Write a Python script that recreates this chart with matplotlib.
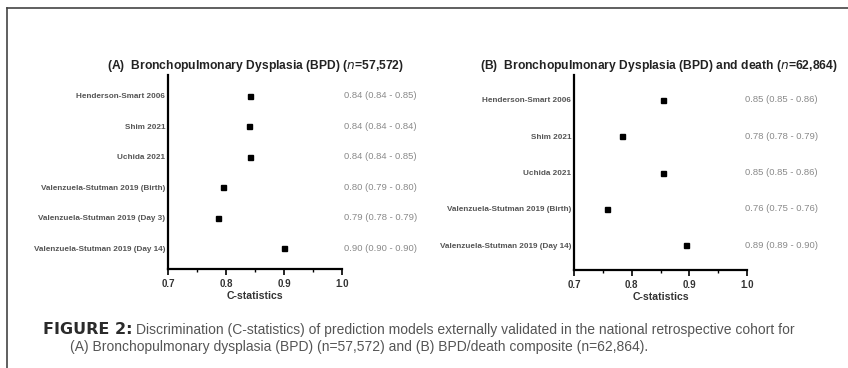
import matplotlib
matplotlib.use("Agg")
import matplotlib.pyplot as plt
from matplotlib.ticker import MultipleLocator

# datos
models_a = ["Henderson-Smart 2006", "Shim 2021", "Uchida 2021",
            "Valenzuela-Stutman 2019 (Birth)", "Valenzuela-Stutman 2019 (Day 3)",
            "Valenzuela-Stutman 2019 (Day 14)"]
cstat_a = [0.841, 0.839, 0.841, 0.795, 0.787, 0.900]
labels_a = ["0.84 (0.84 - 0.85)", "0.84 (0.84 - 0.84)", "0.84 (0.84 - 0.85)",
            "0.80 (0.79 - 0.80)", "0.79 (0.78 - 0.79)", "0.90 (0.90 - 0.90)"]

models_b = ["Henderson-Smart 2006", "Shim 2021", "Uchida 2021",
            "Valenzuela-Stutman 2019 (Birth)", "Valenzuela-Stutman 2019 (Day 14)"]
cstat_b = [0.854, 0.784, 0.855, 0.757, 0.894]
labels_b = ["0.85 (0.85 - 0.86)", "0.78 (0.78 - 0.79)", "0.85 (0.85 - 0.86)",
            "0.76 (0.75 - 0.76)", "0.89 (0.89 - 0.90)"]

xticks = [0.7, 0.8, 0.9, 1.0]
xtick_labels = ["0.7", "0.8", "0.9", "1.0"]

W, H = 848, 368
fig = plt.figure(figsize=(W / 100, H / 100), dpi=100)
plt.rcParams['font.family'] = ['Liberation Sans', 'DejaVu Sans']


def px_axes(left, right, top, bottom):
    return fig.add_axes([left / W, 1 - bottom / H, (right - left) / W, (bottom - top) / H])


def forest(ax, models, vals, labels, title, title_x, text_x):
    n = len(models)
    y = list(range(n))
    ax.plot(vals, y, 's', color='black', markersize=3.6, linestyle='none')
    ax.set_xlim(0.7, 1.0)
    ax.set_ylim(n - 1 + 0.68, -0.68)
    ax.set_yticks(y)
    ax.set_yticklabels(models, fontsize=5.9, fontweight='bold', color='#555555')
    ax.tick_params(axis='y', length=0, pad=2)
    ax.set_xticks(xticks)
    ax.set_xticklabels(xtick_labels, fontsize=7, fontweight='bold', color='#333333')
    ax.xaxis.set_minor_locator(MultipleLocator(0.05))
    ax.tick_params(axis='x', which='major', length=4, width=1.2, pad=3)
    ax.tick_params(axis='x', which='minor', length=2.5, width=1.0)
    for s in ['top', 'right']:
        ax.spines[s].set_visible(False)
    for s in ['left', 'bottom']:
        ax.spines[s].set_linewidth(1.6)
    ax.set_xlabel("C-statistics", fontsize=7.6, fontweight='bold', color='#333333', labelpad=1.5)
    for yi, t in zip(y, labels):
        ax.text(text_x, yi, t, fontsize=6.8, color='#8a8a8a', va='center', ha='left',
                transform=ax.transData, clip_on=False)
    fig.text(title_x / W, 1 - 66 / H, title, fontsize=8.7, fontweight='bold',
             color='#222222', va='center', ha='left')


ax1 = px_axes(168, 342, 75, 269)
forest(ax1, models_a, cstat_a, labels_a,
       r"(A)  Bronchopulmonary Dysplasia (BPD) ($\bf{\it{n}}$=57,572)", 107, 1.003)

ax2 = px_axes(574, 747, 75, 270)
forest(ax2, models_b, cstat_b, labels_b,
       r"(B)  Bronchopulmonary Dysplasia (BPD) and death ($\bf{\it{n}}$=62,864)", 480, 0.997)

# marco de la figura
fig.add_artist(plt.Line2D([7 / W, 1], [1 - 8 / H, 1 - 8 / H], color='#444444', lw=1.2))
fig.add_artist(plt.Line2D([7 / W, 7 / W], [0, 1 - 8 / H], color='#444444', lw=1.2))

# pie de figura
fig.text(43 / W, 1 - 330 / H, "FIGURE 2:", fontsize=11.5, fontweight='bold',
         family=['DejaVu Sans'], color='#2b2b2b', va='center', ha='left')
fig.text(136 / W, 1 - 330 / H,
         "Discrimination (C-statistics) of prediction models externally validated in the national retrospective cohort for",
         fontsize=10, color='#555555', va='center', ha='left')
fig.text(70 / W, 1 - 347 / H,
         "(A) Bronchopulmonary dysplasia (BPD) (n=57,572) and (B) BPD/death composite (n=62,864).",
         fontsize=10, color='#555555', va='center', ha='left')

fig.savefig("out.png", dpi=100)
